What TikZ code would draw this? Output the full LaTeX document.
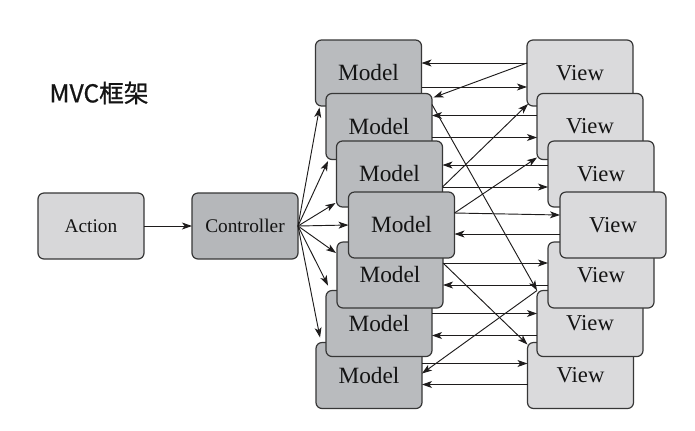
\documentclass[tikz,border=0pt]{standalone}
\usepackage{fontspec}
\setmainfont{Liberation Serif}
\newfontfamily\cjk[FakeBold=0.7]{Noto Sans CJK SC}
\usetikzlibrary{arrows.meta,calc}
\definecolor{modelgray}{RGB}{185,187,190}
\definecolor{viewgray}{RGB}{218,218,220}
\definecolor{actiongray}{RGB}{215,215,217}
\definecolor{ctrlgray}{RGB}{181,183,186}
\definecolor{edgegray}{RGB}{55,55,55}
\definecolor{arrowblack}{RGB}{30,28,28}
\definecolor{textblack}{RGB}{20,20,20}
\begin{document}
\begin{tikzpicture}[x=0.75pt,y=-0.75pt,
  box/.style={draw=edgegray,line width=0.9pt,rounded corners=4.5pt,minimum width=79.5pt,minimum height=49.5pt,inner sep=0pt,outer sep=0pt,text=textblack},
  modelbox/.style={box,fill=modelgray,font=\fontsize{17.5}{20}\selectfont},
  viewbox/.style={box,fill=viewgray,font=\fontsize{17}{20}\selectfont},
  actbox/.style={box,fill=actiongray,font=\fontsize{14.5}{17}\selectfont},
  ctrlbox/.style={box,fill=ctrlgray,font=\fontsize{14.5}{17}\selectfont},
  arr/.style={draw=arrowblack,line width=0.7pt,-{Stealth[length=7.5pt,width=5.2pt,inset=2pt]}}
]
\useasboundingbox[fill=white] (0,0) rectangle (695,430);

\node[text=textblack,font=\cjk\fontsize{18.5}{22}\selectfont] (title) at (99,93) {MVC框架};

\node[actbox] (A) at (91,226) {Action};
\node[ctrlbox] (C) at (245,226) {Controller};

% models (stacked order)
\node[modelbox] (M1) at (368.5,73) {Model};
\node[modelbox] (M7) at (369,375.5) {Model};
\node[modelbox] (M2) at (379,126.5) {Model};
\node[modelbox] (M6) at (379,323.5) {Model};
\node[modelbox] (M3) at (389.5,174) {Model};
\node[modelbox] (M5) at (390,275) {Model};
\node[modelbox] (M4) at (401.5,225) {Model};

% views
\node[viewbox] (V1) at (580,73) {View};
\node[viewbox] (V7) at (580.5,375.5) {View};
\node[viewbox] (V2) at (590,126.5) {View};
\node[viewbox] (V6) at (590,323.5) {View};
\node[viewbox] (V3) at (601,174) {View};
\node[viewbox] (V5) at (601,275) {View};
\node[viewbox] (V4) at (613,225) {View};

% action -> controller
\draw[arr] (A.east) -- (C.west);

% controller fan
\draw[arr] (C.east) -- ($(M1.south west)+(4,1.5)$);
\draw[arr] (C.east) -- ($(M2.south west)+(2,1.5)$);
\draw[arr] (C.east) -- ($(M3.south west)+(-1,-4)$);
\draw[arr] (C.east) -- (M4.west);
\draw[arr] (C.east) -- ($(M5.north west)+(-1,11)$);
\draw[arr] (C.east) -- ($(M6.north west)+(2,-5)$);
\draw[arr] (C.east) -- ($(M7.north west)+(4,-5)$);

% horizontal pairs, top half
\draw[arr] ($(V1.west)+(0,-10)$) -- ($(M1.east)+(0,-10)$);
\draw[arr] ($(M1.east)+(0,14)$) -- ($(V1.west)+(0,14)$);
\draw[arr] ($(V2.west)+(0,-11)$) -- ($(M2.east)+(0,-11)$);
\draw[arr] ($(M2.east)+(0,11)$) -- ($(V2.west)+(0,11)$);
\draw[arr] ($(V3.west)+(0,-9)$) -- ($(M3.east)+(0,-9)$);
\draw[arr] ($(M3.east)+(0,13)$) -- ($(V3.west)+(0,13)$);
% horizontal pairs, bottom half
\draw[arr] ($(M4.east)+(0,-12)$) -- ($(V4.west)+(0,-10)$);
\draw[arr] ($(V4.west)+(0,9)$) -- ($(M4.east)+(0,9)$);
\draw[arr] ($(M5.east)+(0,-12)$) -- ($(V5.west)+(0,-12)$);
\draw[arr] ($(V5.west)+(0,10)$) -- ($(M5.east)+(0,10)$);
\draw[arr] ($(M6.east)+(0,-10)$) -- ($(V6.west)+(0,-10)$);
\draw[arr] ($(V6.west)+(0,12)$) -- ($(M6.east)+(0,12)$);
\draw[arr] ($(M7.east)+(0,-12)$) -- ($(V7.west)+(0,-12)$);
\draw[arr] ($(V7.west)+(0,9)$) -- ($(M7.east)+(0,9)$);

% diagonals
\draw[arr] ($(V1.west)+(0,-10)$) -- ($(M2.north east)+(1.5,4)$);
\draw[arr] ($(M3.east)+(0,13)$) -- ($(V1.south west)+(1,-2)$);
\draw[arr] ($(M4.east)+(0,-12)$) -- ($(V2.south west)+(0,-2)$);
\draw[arr] ($(M2.north east)+(0,11)$) -- (V6.north west);
\draw[arr] (V6.north west) -- ($(M7.east)+(0,-2)$);
\draw[arr] ($(M5.east)+(0,-12)$) -- ($(V7.north west)+(0,2)$);
\end{tikzpicture}
\end{document}
